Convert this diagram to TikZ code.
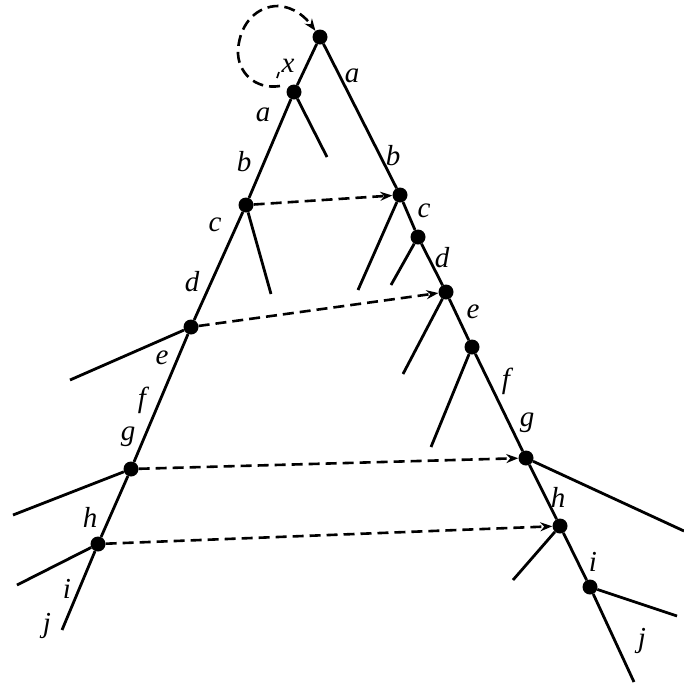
\documentclass[tikz,border=0pt]{standalone}
\usepackage{fontspec}
\setmainfont{Liberation Serif}
\newfontfamily\labfont{Liberation Serif}
\usetikzlibrary{arrows.meta}
\begin{document}
\begin{tikzpicture}[x=1pt,y=-1pt,
  dot/.style={circle,fill=black,inner sep=0pt,minimum size=15pt},
  edge/.style={line width=2.8pt},
  link/.style={line width=2.6pt,dash pattern=on 11pt off 6pt,-{Stealth[length=12pt,width=9pt]}},
  lab/.style={font=\labfont\itshape\fontsize{29}{32}\selectfont,inner sep=0pt}]
\useasboundingbox (0,0) rectangle (684,686);
% main nodes
\node[dot] (T) at (320,37) {};
\node[dot] (L1) at (294,92) {};
\node[dot] (L2) at (246,205) {};
\node[dot] (L3) at (191,327) {};
\node[dot] (L4) at (131,469) {};
\node[dot] (L5) at (98,544) {};
\node[dot] (R1) at (400,195) {};
\node[dot] (R2) at (418,237) {};
\node[dot] (R3) at (446,292) {};
\node[dot] (R4) at (472,347) {};
\node[dot] (R5) at (526,458) {};
\node[dot] (R6) at (560,526) {};
\node[dot] (R7) at (590,587) {};
% free ends
\coordinate (Lend) at (62,630);
\coordinate (Rend) at (634,682);
\coordinate (b1) at (327,157);
\coordinate (b2) at (271,294);
\coordinate (b3) at (70,380);
\coordinate (b4) at (13,515);
\coordinate (b5) at (17,585);
\coordinate (c1) at (358,290);
\coordinate (c2) at (391,285);
\coordinate (c3) at (403,374);
\coordinate (c4) at (431,447);
\coordinate (c5) at (684,531);
\coordinate (c6) at (513,580);
\coordinate (c7) at (677,616);
\coordinate (ls) at (280,86);
% main lines
\draw[edge] (T) -- (L1) -- (L2) -- (L3) -- (L4) -- (L5) -- (Lend);
\draw[edge] (T) -- (R1) -- (R2) -- (R3) -- (R4) -- (R5) -- (R6) -- (R7) -- (Rend);
% branches
\draw[edge] (L1) -- (b1);
\draw[edge] (L2) -- (b2);
\draw[edge] (L3) -- (b3);
\draw[edge] (L4) -- (b4);
\draw[edge] (L5) -- (b5);
\draw[edge] (R1) -- (c1);
\draw[edge] (R2) -- (c2);
\draw[edge] (R3) -- (c3);
\draw[edge] (R4) -- (c4);
\draw[edge] (R5) -- (c5);
\draw[edge] (R6) -- (c6);
\draw[edge] (R7) -- (c7);
% dashed links
\draw[link] (L2) -- (R1);
\draw[link] (L3) -- (R3);
\draw[link] (L4) -- (R5);
\draw[link] (L5) -- (R6);
\draw[link] (ls) .. controls (255,90) and (237,72) .. (238,50)
  .. controls (240,22) and (258,6) .. (278,6)
  .. controls (295,7) and (306,18) .. (T);
\coordinate (tk1) at (277,78);
\coordinate (tk2) at (279,72);
\draw[line width=1.6pt] (tk1) -- (tk2);
% labels
\node[lab] (lx) at (288,66) {x};
\node[lab] (ra) at (352,76) {a};
\node[lab] (la) at (263,115) {a};
\node[lab] (lb) at (244,162) {b};
\node[lab] (rb) at (393,156) {b};
\node[lab] (lc) at (215,225) {c};
\node[lab] (rc) at (424,211) {c};
\node[lab] (ld) at (192,282) {d};
\node[lab] (rd) at (442,258) {d};
\node[lab] (le) at (162,358) {e};
\node[lab] (re) at (473,312) {e};
\node[lab] (lf) at (142,400) {f};
\node[lab] (rf) at (506,381) {f};
\node[lab] (lg) at (128,437) {g};
\node[lab] (rg) at (527,423) {g};
\node[lab] (lh) at (90,517) {h};
\node[lab] (rh) at (558,497) {h};
\node[lab] (li) at (67,589) {i};
\node[lab] (ri) at (593,562) {i};
\node[lab] (lj) at (47,626) {j};
\node[lab] (rj) at (642,641) {j};
\end{tikzpicture}
\end{document}
